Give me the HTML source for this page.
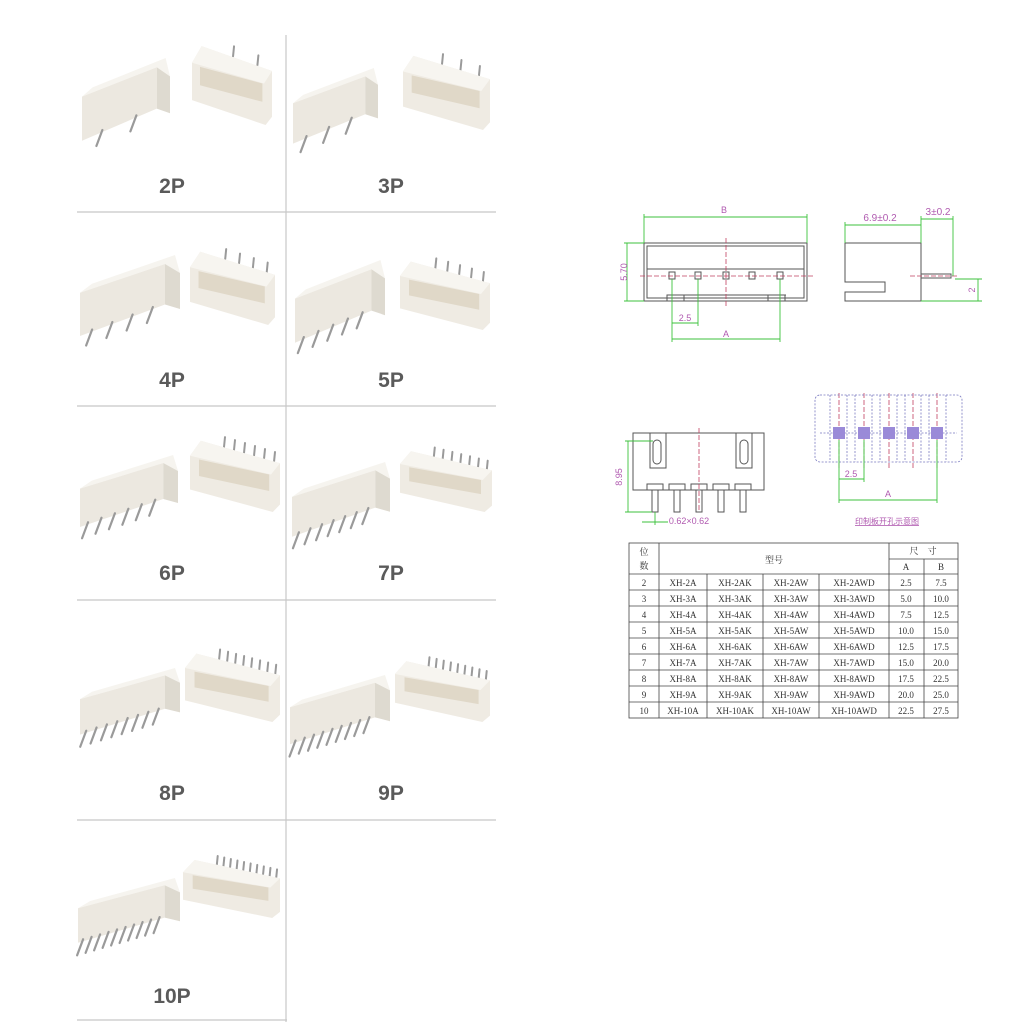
<!DOCTYPE html>
<html><head><meta charset="utf-8"><style>
html,body{margin:0;padding:0;background:#fff}
svg{display:block}
.lb{font-family:"Liberation Sans",sans-serif;font-weight:bold;font-size:21px;fill:#5a5a5a;text-anchor:middle}
.t{font-family:"Liberation Serif","Noto Serif CJK SC",serif;font-size:9px;fill:#333;text-anchor:middle}
.m{font-family:"Liberation Sans","Noto Sans CJK SC",sans-serif;font-size:9px;fill:#b05ab0;text-anchor:middle}
</style></head><body>
<svg id="s" width="1024" height="1024" viewBox="0 0 1024 1024" xmlns="http://www.w3.org/2000/svg">
<rect width="1024" height="1024" fill="#fff"/>
<!-- grid -->
<g stroke="#c8c8c8" stroke-width="1.2">
<line x1="286" y1="35" x2="286" y2="1022"/>
<line x1="77" y1="212" x2="496" y2="212"/>
<line x1="77" y1="406" x2="496" y2="406"/>
<line x1="77" y1="600" x2="496" y2="600"/>
<line x1="77" y1="820" x2="496" y2="820"/>
<line x1="77" y1="1020" x2="287" y2="1020"/>
</g>
<g id="blocks"></g>
<text class="lb" x="172" y="193">2P</text>
<text class="lb" x="391" y="193">3P</text>
<text class="lb" x="172" y="387">4P</text>
<text class="lb" x="391" y="387">5P</text>
<text class="lb" x="172" y="580">6P</text>
<text class="lb" x="391" y="580">7P</text>
<text class="lb" x="172" y="800">8P</text>
<text class="lb" x="391" y="800">9P</text>
<text class="lb" x="172" y="1003">10P</text>

<!-- top-left drawing -->
<g fill="none" stroke="#555" stroke-width="1">
<rect x="644" y="243" width="163" height="58"/>
<rect x="647" y="246" width="157" height="52"/>
<line x1="647" y1="269" x2="804" y2="269"/>
<line x1="667" y1="295" x2="786" y2="295"/>
<rect x="667" y="295" width="17" height="6"/><rect x="768" y="295" width="17" height="6"/>
<rect x="669" y="272" width="6" height="7"/><rect x="695" y="272" width="6" height="7"/><rect x="723" y="272" width="6" height="7"/><rect x="749" y="272" width="6" height="7"/><rect x="777" y="272" width="6" height="7"/>
<path d="M845 243 H921 V301 H845 V292 H885 V282 H845 Z"/>
<rect x="921" y="274" width="30" height="4"/>
<rect x="633" y="433" width="131" height="57"/>
<path d="M650 433 V468 H666 V433 M736 433 V468 H752 V433"/>
<rect x="653" y="440" width="8" height="24" rx="4"/><rect x="740" y="440" width="8" height="24" rx="4"/>
<path d="M647 490 V484 H663 V490 M669 490 V484 H685 V490 M691 490 V484 H707 V490 M713 490 V484 H729 V490 M735 490 V484 H751 V490"/>
<rect x="652" y="490" width="6" height="22"/><rect x="674" y="490" width="6" height="22"/><rect x="696" y="490" width="6" height="22"/><rect x="718" y="490" width="6" height="22"/><rect x="740" y="490" width="6" height="22"/>
</g>
<g stroke="#c04060" stroke-width="0.8" stroke-dasharray="5,2" fill="none">
<line x1="640" y1="276" x2="815" y2="276"/><line x1="726" y1="238" x2="726" y2="306"/>
<line x1="910" y1="276" x2="958" y2="276"/><line x1="699" y1="428" x2="699" y2="512"/>
<line x1="839" y1="393" x2="839" y2="468"/><line x1="864" y1="393" x2="864" y2="468"/><line x1="889" y1="393" x2="889" y2="468"/><line x1="913" y1="393" x2="913" y2="468"/><line x1="937" y1="393" x2="937" y2="468"/>
</g>
<g stroke="#7a7ac0" stroke-width="0.8" stroke-dasharray="2,1.5" fill="none">
<rect x="815" y="395" width="147" height="67" rx="5"/>
<line x1="830" y1="395" x2="830" y2="462"/><line x1="847" y1="395" x2="847" y2="462"/><line x1="855" y1="395" x2="855" y2="462"/><line x1="872" y1="395" x2="872" y2="462"/><line x1="880" y1="395" x2="880" y2="462"/><line x1="897" y1="395" x2="897" y2="462"/><line x1="905" y1="395" x2="905" y2="462"/><line x1="921" y1="395" x2="921" y2="462"/><line x1="929" y1="395" x2="929" y2="462"/><line x1="946" y1="395" x2="946" y2="462"/>
<line x1="820" y1="433" x2="957" y2="433"/>
</g>
<g fill="#9a8ad8"><rect x="833" y="427" width="12" height="12"/><rect x="858" y="427" width="12" height="12"/><rect x="883" y="427" width="12" height="12"/><rect x="907" y="427" width="12" height="12"/><rect x="931" y="427" width="12" height="12"/></g>
<!-- green dims -->
<g stroke="#3cc23c" stroke-width="0.9" fill="none">
<line x1="644" y1="217" x2="807" y2="217"/><line x1="644" y1="214" x2="644" y2="243"/><line x1="807" y1="214" x2="807" y2="243"/>
<line x1="627" y1="243" x2="627" y2="301"/><line x1="624" y1="243" x2="644" y2="243"/><line x1="624" y1="301" x2="644" y2="301"/>
<line x1="672" y1="279" x2="672" y2="342"/><line x1="698" y1="279" x2="698" y2="326"/><line x1="780" y1="279" x2="780" y2="342"/>
<line x1="672" y1="323" x2="698" y2="323"/><line x1="672" y1="339" x2="780" y2="339"/>
<line x1="845" y1="225" x2="921" y2="225"/><line x1="845" y1="222" x2="845" y2="243"/><line x1="921" y1="216" x2="921" y2="243"/>
<line x1="921" y1="219" x2="953" y2="219"/><line x1="953" y1="216" x2="953" y2="276"/>
<line x1="978" y1="279" x2="978" y2="301"/><line x1="955" y1="279" x2="982" y2="279"/><line x1="921" y1="301" x2="982" y2="301"/>
<line x1="628" y1="441" x2="628" y2="512"/><line x1="625" y1="441" x2="653" y2="441"/><line x1="625" y1="512" x2="652" y2="512"/>
<line x1="642" y1="522" x2="668" y2="522"/><line x1="655" y1="512" x2="655" y2="525"/>
<line x1="839" y1="440" x2="839" y2="503"/><line x1="864" y1="440" x2="864" y2="482"/><line x1="937" y1="440" x2="937" y2="503"/>
<line x1="839" y1="479" x2="864" y2="479"/><line x1="839" y1="500" x2="937" y2="500"/>
</g>
<text class="m" x="724" y="213">B</text>
<text class="m" x="627" y="272" transform="rotate(-90 627 272)">5.70</text>
<text class="m" x="685" y="321">2.5</text>
<text class="m" x="726" y="337">A</text>
<text class="m" x="880" y="221" style="font-size:10px">6.9±0.2</text>
<text class="m" x="938" y="215" style="font-size:10px">3±0.2</text>
<text class="m" x="975" y="290" transform="rotate(-90 975 290)">2</text>
<text class="m" x="622" y="477" transform="rotate(-90 622 477)">8.95</text>
<text class="m" x="689" y="524">0.62×0.62</text>
<text class="m" x="851" y="477">2.5</text>
<text class="m" x="888" y="497">A</text>
<text class="m" x="887" y="524" style="font-size:8px;text-decoration:underline">印制板开孔示意图</text>
<!-- table -->
<g stroke="#444" stroke-width="0.8" fill="none">
<rect x="629" y="543" width="329" height="175"/>
<line x1="659" y1="543" x2="659" y2="718"/>
<line x1="889" y1="543" x2="889" y2="718"/>
<line x1="924" y1="559" x2="924" y2="718"/>
<line x1="707" y1="574" x2="707" y2="718"/><line x1="763" y1="574" x2="763" y2="718"/><line x1="819" y1="574" x2="819" y2="718"/>
<line x1="889" y1="559" x2="958" y2="559"/>
<line x1="629" y1="574" x2="958" y2="574"/>
<line x1="629" y1="590" x2="958" y2="590"/><line x1="629" y1="606" x2="958" y2="606"/><line x1="629" y1="622" x2="958" y2="622"/><line x1="629" y1="638" x2="958" y2="638"/><line x1="629" y1="654" x2="958" y2="654"/><line x1="629" y1="670" x2="958" y2="670"/><line x1="629" y1="686" x2="958" y2="686"/><line x1="629" y1="702" x2="958" y2="702"/>
</g>
<g class="t">
<text class="t" x="644" y="555">位</text><text class="t" x="644" y="569">数</text>
<text class="t" x="774" y="563">型号</text>
<text class="t" x="923" y="554">尺　寸</text>
<text class="t" x="906" y="570">A</text><text class="t" x="941" y="570">B</text>
</g>
<g id="rows"></g>
</svg>
<script>
var NS="http://www.w3.org/2000/svg";
function el(p,t,a){var e=document.createElementNS(NS,t);for(var k in a)e.setAttribute(k,a[k]);p.appendChild(e);return e;}
var rows=document.getElementById("rows");
var A=["2.5","5.0","7.5","10.0","12.5","15.0","17.5","20.0","22.5"],B=["7.5","10.0","12.5","15.0","17.5","20.0","22.5","25.0","27.5"];
for(var i=0;i<9;i++){var n=i+2,y=586+16*i;
 var v=[[644,n],[683,"XH-"+n+"A"],[735,"XH-"+n+"AK"],[791,"XH-"+n+"AW"],[854,"XH-"+n+"AWD"],[906,A[i]],[941,B[i]]];
 v.forEach(function(c){var t=el(rows,"text",{x:c[0],y:y,"class":"t"});t.textContent=c[1];});}
var g=document.getElementById("blocks");
function pt(a){return a.map(function(p){return p[0].toFixed(1)+","+p[1].toFixed(1)}).join(" ");}
function L(x0,y0,x1,y1,n){var w=x1-x0,h=y1-y0;
 var a=[x0,y0+.42*h],b=[x1-.15*w,y0+.1*h],c=[x1,y0+.2*h],d=[x1,y0+.6*h],e=[x1-.15*w,y0+.55*h],f=[x0,y0+.9*h];
 el(g,"polygon",{points:pt([[x0+.12*w,y0+.32*h],[x1-.05*w,y0],c,b,a]),fill:"#f6f4ef"});
 el(g,"polygon",{points:pt([a,b,e,f]),fill:"#ece8e0"});
 el(g,"polygon",{points:pt([b,c,d,e]),fill:"#dedad0"});
 for(var i=0;i<n;i++){var t=(i+.6)/(n+.2);var px=f[0]+(e[0]-f[0])*t,py=f[1]+(e[1]-f[1])*t-2;
  el(g,"line",{x1:px,y1:py,x2:px-6,y2:py+16,stroke:"#9a9a9a","stroke-width":2.2,"stroke-linecap":"round"});}
}
function R(x0,y0,x1,y1,n){var w=x1-x0,h=y1-y0;
 for(var i=0;i<n;i++){var t=(i+.7)/(n+.3);var px=x0+.3*w+.7*w*t,py=y0+.25*h*t+8;
  el(g,"line",{x1:px,y1:py,x2:px+1,y2:py-10,stroke:"#9a9a9a","stroke-width":2,"stroke-linecap":"round"});}
 el(g,"polygon",{points:pt([[x0,y0+.25*h],[x0+.12*w,y0+.05*h],[x1,y0+.35*h],[x1,y1-.1*h],[x1-.08*w,y1],[x0,y1-.3*h]]),fill:"#efebe3"});
 el(g,"polygon",{points:pt([[x0+.1*w,y0+.3*h],[x1-.12*w,y0+.5*h],[x1-.12*w,y0+.72*h],[x0+.1*w,y0+.52*h]]),fill:"#e0d8c8"});
 el(g,"polygon",{points:pt([[x0,y0+.25*h],[x0+.12*w,y0+.05*h],[x1,y0+.35*h],[x1-.1*w,y0+.5*h]]),fill:"#f7f5f0"});
}
L(82,58,170,150,2);R(192,42,272,125,2);
L(293,68,378,152,3);R(403,52,490,130,3);
L(80,255,180,345,4);R(190,248,275,325,4);
L(295,260,385,352,5);R(400,258,490,330,5);
L(80,455,178,535,6);R(190,437,280,512,6);
L(292,462,390,545,7);R(400,448,492,512,7);
L(80,668,180,742,8);R(185,650,280,722,8);
L(290,675,390,752,9);R(395,658,490,722,9);
L(78,878,180,950,10);R(183,857,280,918,10);
</script>
</body></html>
